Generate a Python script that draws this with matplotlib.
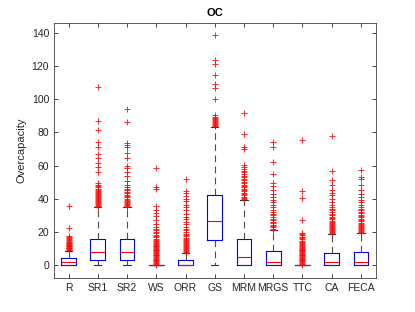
import matplotlib
matplotlib.use("Agg")
import matplotlib.pyplot as plt

plt.rcParams["font.family"] = ["Liberation Sans", "DejaVu Sans"]

labels = ["R", "SR1", "SR2", "WS", "ORR", "GS", "MRM", "MRGS", "TTC", "CA", "FECA"]
# box stats: lower whisker, q1, median, q3, upper whisker
whislo = [0, 0, 0, 0, 0, 0, 0, 0, 0, 0, 0]
q1 = [0, 2.8, 3.2, 0, 0, 15.2, 0, 0, 0, 0, 0]
med = [1.6, 7.6, 8.0, 0, 0, 26.6, 5.0, 1.6, 0, 1.6, 1.6]
q3 = [4.0, 15.6, 15.8, 0, 2.8, 42.4, 15.8, 8.6, 0, 7.4, 7.8]
whishi = [8.6, 34.8, 35.0, 0, 7.0, 83.4, 39.4, 21.0, 0, 18.8, 19.4]

out_R = [8.8, 9.2, 9.6, 10.0, 10.4, 10.8, 11.2, 11.6, 12.0, 12.4, 12.8, 13.2, 13.6,
         14.0, 14.5, 15.0, 15.5, 16.2, 17.0, 17.5, 22.4, 35.6]
out_SR1 = [35.2, 35.8, 36.4, 37.0, 37.6, 38.2, 38.8, 39.4, 40.0, 40.6, 41.2, 41.8,
           42.4, 43.0, 43.6, 44.2, 44.8, 45.4, 46.0, 46.8, 47.6, 48.4, 49.4, 56.4,
           59.4, 61.4, 64.8, 66.8, 71.4, 74.0, 81.4, 87.0, 107.6]
out_SR2 = [35.2, 35.8, 36.4, 37.0, 37.6, 38.2, 38.8, 39.4, 40.0, 40.8, 41.6, 42.4,
           43.2, 44.0, 45.0, 46.0, 47.0, 48.4, 50.8, 53.4, 56.4, 58.4, 60.0, 64.4,
           67.4, 71.0, 72.4, 73.8, 86.0, 93.8]
out_WS = [0.3, 0.8, 1.3, 1.8, 2.3, 2.8, 3.3, 3.8, 4.3, 4.8, 5.3, 5.8, 6.3, 6.8, 7.3,
          7.8, 8.3, 8.8, 9.3, 9.8, 10.3, 10.8, 11.3, 11.8, 12.4, 13.0, 13.6, 14.2,
          14.8, 15.4, 16.0, 16.8, 17.6, 18.4, 19.2, 20.0, 21.0, 22.0, 23.0, 25.0,
          27.0, 29.5, 31.5, 33.5, 35.4, 45.8, 46.8, 58.8]
out_ORR = [7.2, 7.8, 8.4, 9.0, 9.6, 10.2, 10.8, 11.4, 12.0, 12.6, 13.2, 13.8, 14.4,
           15.0, 15.8, 16.6, 17.4, 18.2, 19.0, 20.0, 21.0, 22.0, 23.0, 24.5, 26.0,
           27.5, 29.0, 31.0, 33.0, 35.0, 36.4, 38.4, 40.0, 41.4, 43.4, 44.4, 51.9]
out_GS = [83.6, 84.2, 84.8, 85.4, 86.0, 86.6, 87.2, 87.8, 88.4, 89.2, 90.2, 100.2,
          106.8, 109.0, 114.4, 121.4, 123.4, 138.6]
out_MRM = [39.6, 40.4, 41.2, 42.0, 42.8, 43.6, 44.4, 45.2, 46.0, 46.8, 47.6, 48.4,
           49.2, 50.0, 51.0, 52.0, 53.0, 54.0, 55.0, 56.0, 57.0, 58.0, 59.0, 60.1,
           70.2, 71.2, 78.8, 91.6]
out_MRGS = [21.2, 22.0, 22.8, 23.6, 24.4, 25.2, 26.0, 27.0, 28.0, 29.0, 30.0, 31.0,
            32.0, 33.5, 35.0, 36.5, 38.0, 39.0, 41.0, 43.0, 45.0, 47.4, 49.4, 55.0,
            62.4, 71.4, 74.0]
out_TTC = [0.3, 0.8, 1.3, 1.8, 2.3, 2.8, 3.3, 3.8, 4.3, 4.8, 5.3, 5.8, 6.3, 6.8,
           7.3, 7.8, 8.3, 8.8, 9.3, 9.8, 10.4, 11.0, 11.6, 12.2, 12.8, 13.4, 14.0,
           14.8, 15.6, 16.4, 17.2, 18.0, 18.8, 19.4, 27.0, 40.5, 44.6, 75.4]
out_CA = [19.2, 19.8, 20.4, 21.0, 21.6, 22.2, 22.8, 23.4, 24.0, 24.6, 25.2, 26.0,
          26.8, 27.6, 28.4, 29.2, 30.0, 31.0, 32.0, 33.0, 34.0, 35.0, 36.0, 38.0,
          40.0, 42.0, 43.5, 45.0, 48.0, 51.4, 57.0, 77.6]
out_FECA = [19.6, 20.2, 20.8, 21.4, 22.0, 22.6, 23.2, 23.8, 24.4, 25.0, 25.6, 26.4,
            27.2, 28.0, 28.8, 29.6, 30.4, 31.2, 32.0, 33.0, 34.0, 35.0, 36.5, 38.0,
            39.5, 41.0, 43.0, 45.0, 48.0, 51.8, 53.0, 57.4]
fliers = [out_R, out_SR1, out_SR2, out_WS, out_ORR, out_GS, out_MRM, out_MRGS,
          out_TTC, out_CA, out_FECA]

stats = []
for i, lab in enumerate(labels):
    stats.append(dict(label=lab, whislo=whislo[i], q1=q1[i], med=med[i], q3=q3[i],
                      whishi=whishi[i], fliers=fliers[i]))

fig = plt.figure(figsize=(4.15, 3.12), dpi=100)
ax = fig.add_axes([0.130, 0.110, 0.775, 0.815])

ax.bxp(stats, positions=range(1, 12), widths=0.5, capwidths=0.25,
       boxprops=dict(color="blue", lw=0.8),
       medianprops=dict(color="red", lw=0.8),
       whiskerprops=dict(color="0.3", lw=0.8, linestyle=(0, (6, 4))),
       capprops=dict(color="0.2", lw=0.8),
       flierprops=dict(marker="+", markeredgecolor="red", markersize=4.5,
                       markeredgewidth=0.7, alpha=0.85))

ax.set_xlim(0.5, 11.5)
ax.set_ylim(-7.6, 145.7)
ax.set_yticks(range(0, 141, 20))
ax.tick_params(direction="in", top=True, right=True, labelsize=7.5,
               length=3, width=0.6, colors="0.15")
for s in ax.spines.values():
    s.set_color("0.25")
    s.set_linewidth(0.6)
ax.set_ylabel("Overcapacity", fontsize=8, color="0.15")
ax.set_title("OC", fontsize=8, fontweight="bold", pad=5)

fig.savefig("out.png", dpi=100)
